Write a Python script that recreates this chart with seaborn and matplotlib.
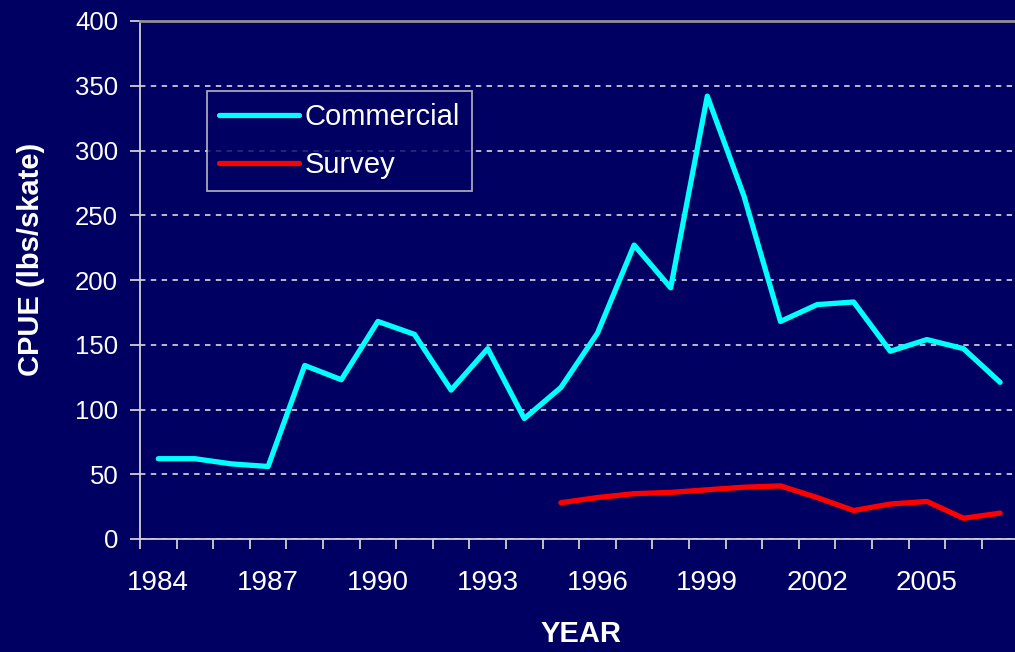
import matplotlib
matplotlib.use("Agg")
import matplotlib.pyplot as plt
import seaborn as sns
import pandas as pd

years = list(range(1984, 2008))
commercial = [62, 62, 58, 56, 134, 123, 168, 158, 115, 147, 93, 117, 159,
              227, 194, 342, 265, 168, 181, 183, 145, 154, 147, 121]
survey_years = list(range(1995, 2008))
survey = [28, 32, 35, 36, 38, 40, 41, 32, 22, 27, 29, 16, 20]
xtick_labels = [1984, 1987, 1990, 1993, 1996, 1999, 2002, 2005]

df = pd.concat([
    pd.DataFrame({"Year": years, "CPUE": commercial, "Series": "Commercial"}),
    pd.DataFrame({"Year": survey_years, "CPUE": survey, "Series": "Survey"}),
])

sns.set_theme(style="white")
plt.rcParams['font.family'] = ['Liberation Sans', 'DejaVu Sans']

navy = "#000062"
fig = plt.figure(figsize=(10.15, 6.52), dpi=100, facecolor=navy)
ax = fig.add_axes([140/1015, 1-539/652, (1018.4-140)/1015, (539-21)/652])
ax.set_facecolor(navy)

sns.lineplot(data=df, x="Year", y="CPUE", hue="Series",
             palette={"Commercial": "#00FFFF", "Survey": "#FF0000"},
             linewidth=3.8, ax=ax, legend=True)

ax.set_xlim(1983.5, 2007.5)
ax.set_ylim(0, 400)
ax.set_yticks(range(0, 401, 50))
ax.set_xticks(xtick_labels)
ax.set_xticklabels([str(y) for y in xtick_labels])
ax.set_xticks([y - 0.5 for y in years] + [2007.5], minor=True)

ax.yaxis.grid(True, linestyle=(0, (3, 3)), color="#C8C8D8", linewidth=1.3)
ax.xaxis.grid(False)

ax.tick_params(axis="y", which="major", direction="out", length=7.2, width=1.3,
               color="#D0D0D0", labelsize=18.5, labelcolor="white", pad=8.5, left=True)
ax.tick_params(axis="x", which="major", length=0, labelsize=20,
               labelcolor="white", pad=22)
ax.tick_params(axis="x", which="minor", direction="out", length=7, width=1.3,
               color="#D0D0D0", bottom=True)

for s in ["left", "bottom"]:
    ax.spines[s].set_color("#D0D0D0")
    ax.spines[s].set_linewidth(1.3)
ax.spines["top"].set_color("#909090")
ax.spines["top"].set_linewidth(2)
ax.spines["right"].set_visible(False)

ax.set_xlabel("YEAR", fontsize=21, fontweight="bold", color="white")
ax.xaxis.set_label_coords((581-140)/878.4, (539-620)/518)
ax.set_ylabel("CPUE (lbs/skate)", fontsize=21, fontweight="bold", color="white")
ax.yaxis.set_label_coords((45-140)/878.4, (539-259)/518)

leg = ax.legend(loc="upper left", bbox_to_anchor=((207-140)/878.4, (539-91)/518),
                fontsize=21, frameon=True, facecolor=navy, edgecolor="#D0D0D0",
                handlelength=2.75, handletextpad=0.17, labelspacing=0.68,
                borderpad=0.42, borderaxespad=0, fancybox=False, title=None)
leg.get_frame().set_linewidth(1.3)
for t in leg.get_texts():
    t.set_color("white")
for l in leg.get_lines():
    l.set_linewidth(3.8)

fig.savefig("out.png", dpi=100, facecolor=navy)
